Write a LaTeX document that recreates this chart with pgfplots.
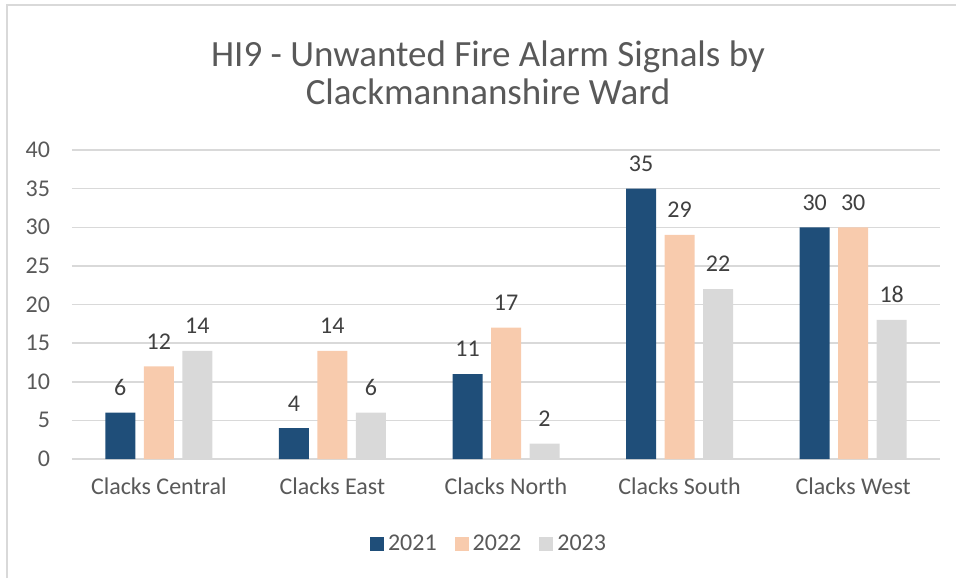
\documentclass[border=0pt]{standalone}
\usepackage{pgfplots}
\pgfplotsset{compat=1.18}
\usepackage{fontspec}
\setmainfont{Carlito}
\definecolor{c2021}{HTML}{1F4E79}
\definecolor{c2022}{HTML}{F8CBAD}
\definecolor{c2023}{HTML}{D9D9D9}
\definecolor{txt}{HTML}{595959}
\definecolor{lbl}{HTML}{404040}
\definecolor{gridc}{HTML}{D9D9D9}
\begin{document}
\begin{tikzpicture}
\begin{axis}[
    scale only axis,
    width=434pt, height=154.5pt,
    ybar=4.25pt, bar width=15pt,
    ymin=0, ymax=40, ytick={0,5,...,40},
    xmin=-0.5, xmax=4.5,
    xtick=data,
    xticklabels={Clacks Central, Clacks East, Clacks North, Clacks South, Clacks West},
    axis line style={draw=none},
    major tick length=0pt,
    ymajorgrids, grid style={gridc, line width=0.75pt},
    tick label style={font=\fontsize{12}{14}\selectfont, text=txt},
    yticklabel style={xshift=-7.5pt},
    xticklabel style={yshift=-6pt},
    /pgf/number format/assume math mode=true,
    nodes near coords,
    nodes near coords style={font=\fontsize{12}{14}\selectfont, text=lbl, yshift=5pt},
    legend style={at={(0.4816,-0.275)}, anchor=center, draw=none, legend columns=3,
        font=\fontsize{12}{14}\selectfont, text=txt,
        /tikz/every even column/.append style={column sep=7pt}},
    legend image code/.code={\fill[#1] (0pt,-3.5pt) rectangle (7pt,3.5pt);},
]
\addplot[fill=c2021, draw=none] coordinates {(0,6) (1,4) (2,11) (3,35) (4,30)};
\addplot[fill=c2022, draw=none] coordinates {(0,12) (1,14) (2,17) (3,29) (4,30)};
\addplot[fill=c2023, draw=none] coordinates {(0,14) (1,6) (2,2) (3,22) (4,18)};
\legend{2021, 2022, 2023}
\end{axis}
\useasboundingbox (-36pt,-59.5pt) rectangle (442pt,229.5pt);
\draw[gridc, line width=0.75pt] (-32.5pt,-59.5pt) -- (-32.5pt,227pt) -- (442pt,227pt);
\node[anchor=base, text=txt, font=\fontsize{18.5}{22}\selectfont] at (208pt,196pt) {HI9 - Unwanted Fire Alarm Signals by};
\node[anchor=base, text=txt, font=\fontsize{18.5}{22}\selectfont] at (208pt,177pt) {Clackmannanshire Ward};
\end{tikzpicture}
\end{document}
